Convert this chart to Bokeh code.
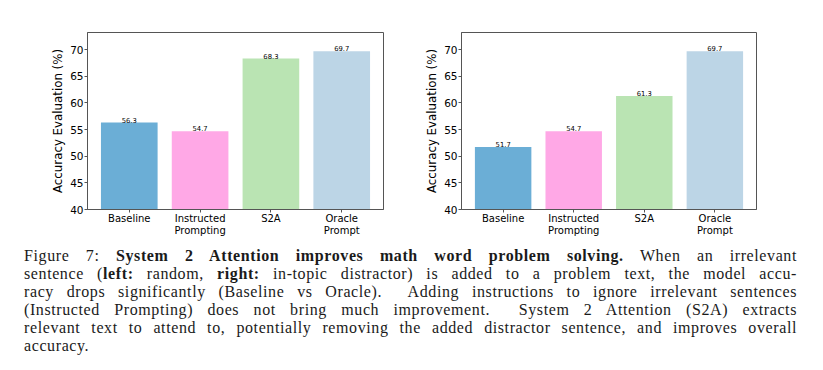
from bokeh.plotting import figure
from bokeh.layouts import row, column
from bokeh.models import ColumnDataSource, FixedTicker, Range1d, Div
from bokeh.core.properties import value
from bokeh.embed import file_html
from bokeh.resources import INLINE

# ---- data ----
categories = ["Baseline", "Instructed\nPrompting", "S2A", "Oracle\nPrompt"]
positions = [0, 1, 2, 3]
left_values = [56.3, 54.7, 68.3, 69.7]
right_values = [51.7, 54.7, 61.3, 69.7]
bar_colors = ["#6baed6", "#ffa8e6", "#bae4b3", "#bcd5e6"]
y_ticks = [40, 45, 50, 55, 60, 65, 70]
y_label = "Accuracy Evaluation (%)"

SANS = "DejaVu Sans"


def make_chart(vals, width, bl, br):
    src = ColumnDataSource(dict(
        x=positions, top=vals, color=bar_colors,
        label=[f"{v:.1f}" for v in vals],
    ))
    p = figure(width=width, height=244, output_backend="svg", toolbar_location=None,
               x_range=Range1d(-0.59, 3.59), y_range=Range1d(40, 73.2),
               min_border_left=bl, min_border_right=br,
               min_border_top=32, min_border_bottom=35)
    p.vbar(x="x", top="top", bottom=40, width=0.8, color="color", line_color=None, source=src)
    p.text(x="x", y="top", text="label", source=src, text_align="center",
           text_baseline="bottom", text_font_size="6.8px", text_color="#000000",
           text_font=value(SANS))
    p.xgrid.visible = False
    p.ygrid.visible = False
    p.outline_line_color = "#555555"
    p.outline_line_width = 1
    p.background_fill_color = "white"
    p.border_fill_color = "white"

    p.xaxis.ticker = FixedTicker(ticks=positions)
    p.xaxis.major_label_overrides = {i: c for i, c in zip(positions, categories)}
    p.yaxis.ticker = FixedTicker(ticks=y_ticks)
    p.yaxis.axis_label = y_label
    for ax in (p.xaxis[0], p.yaxis[0]):
        ax.axis_line_color = "#555555"
        ax.major_tick_line_color = "#555555"
        ax.minor_tick_line_color = None
        ax.major_tick_out = 3
        ax.major_tick_in = 0
        ax.major_label_text_font = SANS
        ax.major_label_text_color = "#000000"
    p.xaxis.major_label_standoff = 0
    p.yaxis.major_label_standoff = 1
    p.xaxis.major_label_text_font_size = "10px"
    p.yaxis.major_label_text_font_size = "10.5px"
    p.xaxis.major_label_text_line_height = 1.15
    p.yaxis.axis_label_text_font = SANS
    p.yaxis.axis_label_text_font_size = "11.8px"
    p.yaxis.axis_label_text_font_style = "normal"
    p.yaxis.axis_label_text_color = "#000000"
    p.yaxis.axis_label_standoff = 2
    return p


p1 = make_chart(left_values, 408, 87, 25)
p2 = make_chart(right_values, 415, 53, 67)

caption_lines = [
    'Figure 7: <b>System 2 Attention improves math word problem solving.</b> When an irrelevant',
    'sentence (<b>left:</b> random, <b>right:</b> in-topic distractor) is added to a problem text, the model accu-',
    'racy drops significantly (Baseline vs Oracle). &nbsp;Adding instructions to ignore irrelevant sentences',
    '(Instructed Prompting) does not bring much improvement. &nbsp;System 2 Attention (S2A) extracts',
    'relevant text to attend to, potentially removing the added distractor sentence, and improves overall',
    'accuracy.',
]
inner = "".join(
    f'<div style="text-align:justify;text-align-last:justify;white-space:normal;">{l}</div>'
    for l in caption_lines[:-1]
) + f'<div style="text-align:left;">{caption_lines[-1]}</div>'
html = (
    '<div style="font-family:\'Liberation Serif\',serif;font-size:16px;line-height:18px;'
    'letter-spacing:0.6px;color:#1a1a1a;width:773px;margin-left:24px;padding-top:3px;">'
    + inner + '</div>'
)
cap = Div(text=html, width=823, height=126, margin=(0, 0, 0, 0))

layout = column(row(p1, p2, spacing=0), cap, spacing=0)

open("out.html", "w").write(file_html(layout, INLINE))
